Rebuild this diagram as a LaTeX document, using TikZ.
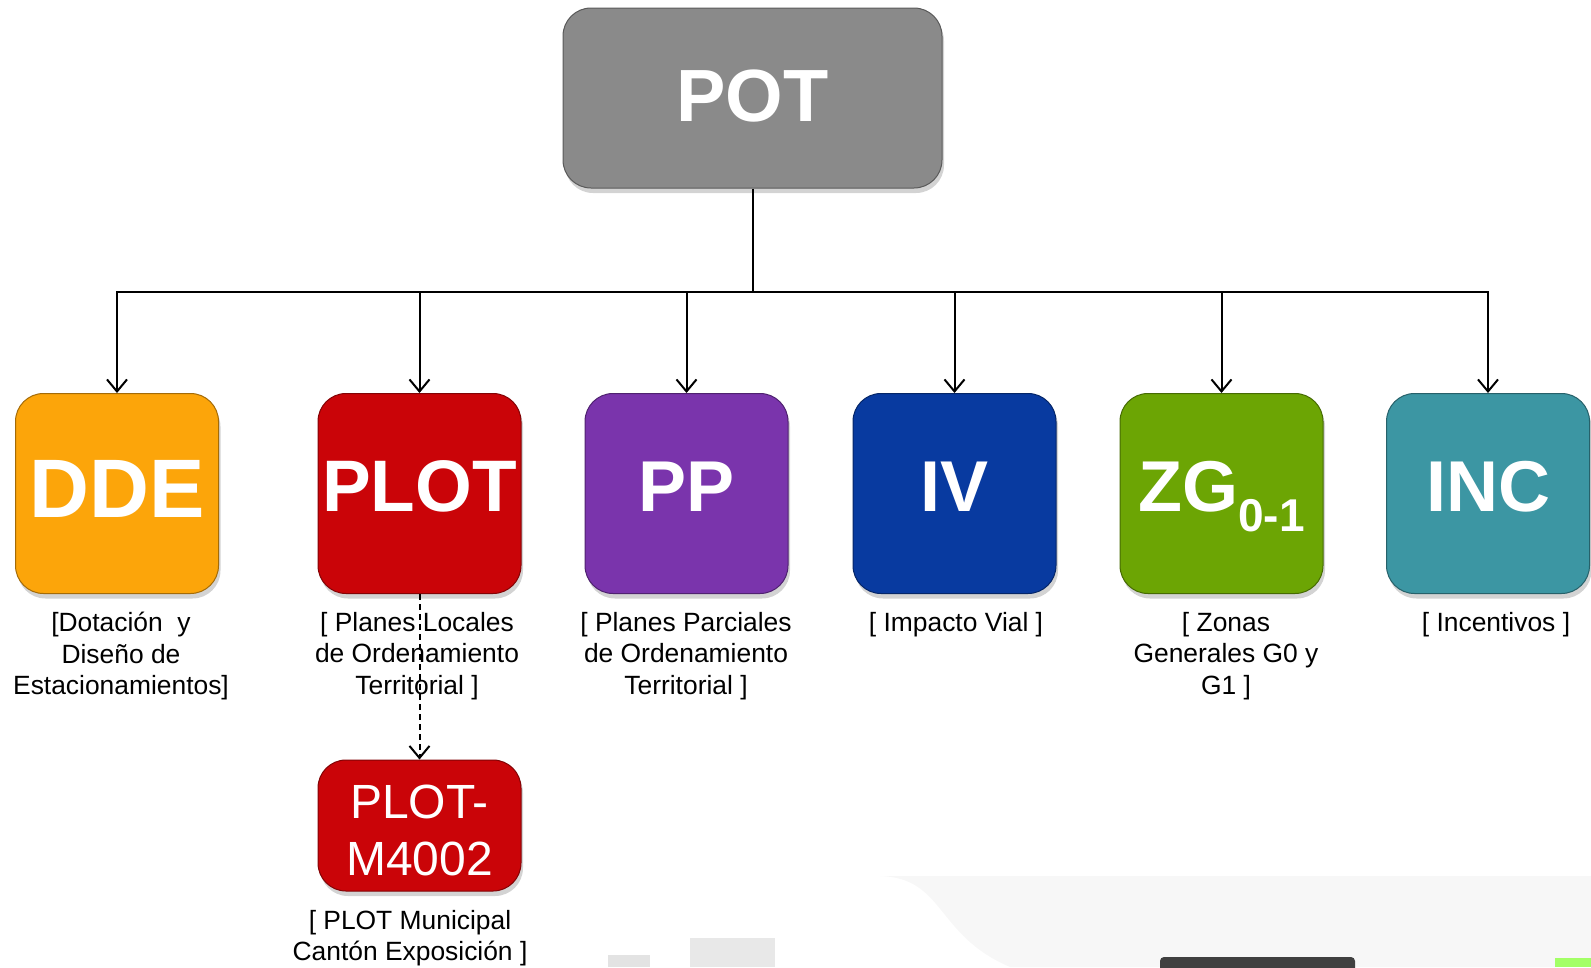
\documentclass[tikz,border=0pt]{standalone}
\usepackage{fontspec}
\setmainfont{Liberation Sans}
\usetikzlibrary{arrows.meta,shadows}
\definecolor{potgray}{RGB}{138,138,138}
\definecolor{ddeorange}{RGB}{252,165,10}
\definecolor{plotred}{RGB}{202,4,8}
\definecolor{pppurple}{RGB}{122,52,172}
\definecolor{ivblue}{RGB}{8,58,160}
\definecolor{zggreen}{RGB}{108,165,4}
\definecolor{incteal}{RGB}{60,150,163}
\newcommand\myup[2]{\raisebox{#1}[\height][\depth]{#2}}
\begin{document}
\begin{tikzpicture}[x=1pt,y=-1pt,
  box/.style={rounded corners=28pt, draw=#1!65!black, line width=1pt, fill=#1,
    drop shadow={shadow xshift=2pt, shadow yshift=-5pt, opacity=0.35},
    text=white, inner sep=0pt, align=center},
  sq/.style={box=#1, minimum width=203pt, minimum height=200pt},
  big/.style={font=\bfseries\fontsize{#1}{#1}\selectfont},
  lbl/.style={anchor=north, inner sep=0pt, align=center, font=\fontsize{26.4}{31.5}\selectfont},
  conn/.style={line width=2pt, draw=black},
  arr/.style={conn, -{Straight Barb[length=12pt,width=20pt,line width=2pt]}}
]
\useasboundingbox (0,0) rectangle (1591,967);

% faint background watermark
\fill[gray!6] (880,876) .. controls (945,878) and (935,935) .. (1010,967) -- (1591,967) -- (1591,876) -- cycle;
\fill[gray!22] (608,955) rectangle (650,967);
\fill[gray!18] (690,938) rectangle (775,967);
\fill[black!75, rounded corners=4pt] (1160,957) rectangle (1355,975);
\fill[green!60!yellow!60] (1555,958) rectangle (1591,967);

% top node
\node[box=potgray, minimum width=379pt, minimum height=180pt, big=74] (pot) at (752.5,98) {\myup{2pt}{POT}};

% children
\node[sq=ddeorange, big=83] (dde)  at (117,493.5) {\myup{5pt}{DDE}};
\node[sq=plotred,  big=73] (plot) at (419.5,493.5) {\myup{7pt}{PLOT}};
\node[sq=pppurple, big=72] (pp)   at (686.5,493.5) {\myup{7pt}{PP}};
\node[sq=ivblue,   big=72] (iv)   at (954.5,493.5) {\myup{7pt}{IV}};
\node[sq=zggreen,  big=72] (zg)   at (1221.5,493.5) {\myup{7pt}{ZG\raisebox{-20pt}[0pt][0pt]{\fontsize{46}{46}\selectfont 0-1}}};
\node[sq=incteal,  big=72] (inc)  at (1488,493.5) {\myup{7pt}{INC}};

\node[box=plotred, minimum width=203pt, minimum height=131pt, font=\fontsize{48}{57}\selectfont] (plotm) at (419.5,825.5)
  {\myup{-10pt}{\begin{tabular}{@{}c@{}}PLOT-\\M4002\end{tabular}}};

% connectors
\path (pot.south) ++(0,103) coordinate (bus);
\draw[conn] (pot.south) -- (bus);
\foreach \n in {dde,plot,pp,iv,zg,inc}
  \draw[arr] (bus) -| (\n.north);
\draw[arr, dash pattern=on 6pt off 4pt] (plot.south) -- (plotm.north);

% labels
\node[lbl] (ddel)  at (121,612)  {[Dotación~~y\\Diseño de\\Estacionamientos]};
\node[lbl] (plotl) at (417,612)  {[ Planes Locales\\de Ordenamiento\\Territorial ]};
\node[lbl] (ppl)   at (686,612)  {[ Planes Parciales\\de Ordenamiento\\Territorial ]};
\node[lbl] (ivl)   at (956,612)  {[ Impacto Vial ]};
\node[lbl] (zgl)   at (1226,612) {[ Zonas\\Generales G0 y\\G1 ]};
\node[lbl] (incl)  at (1496,612) {[ Incentivos ]};
\node[lbl] (plotml) at (410,910) {[ PLOT Municipal\\Cantón Exposición ]};
\end{tikzpicture}
\end{document}
